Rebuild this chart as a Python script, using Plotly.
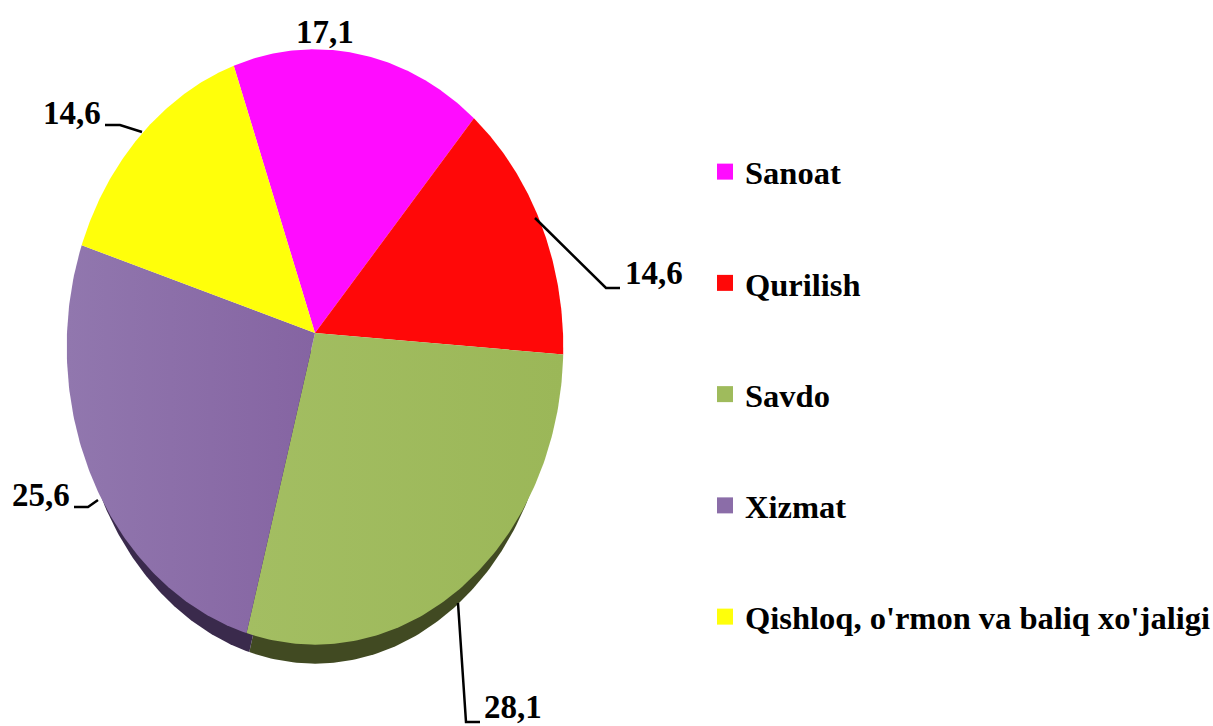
import numpy as np
import plotly.graph_objects as go

categories = ["Sanoat", "Qurilish", "Savdo", "Xizmat", "Qishloq, o'rmon va baliq xo'jaligi"]
values = [17.1, 14.6, 28.1, 25.6, 14.6]
colors = ["#FF0CFF", "#FF0808", "#9FBB5C", "#8B6DA8", "#FFFF0A"]
gradients = [None, None, ("#A3BE62", "#9BB758"), ("#9177AE", "#8564A2"), None]
depth_colors = [None, None, "#414A22", "#3A2A4C", None]

START_DEG = 340.0
CX, APEX_Y, RX, RY = 315.0, 333.0, 248.0, 297.0
PERSPECTIVE = 0.047
DEPTH_APEX_Y, DEPTH_RX = 352.0, 238.0
W, H = 1213, 726
FONT = "Liberation Serif"
LABEL_SIZE = 33
LEGEND_SIZE = 32.5


def wedge(a0, a1, apex_y, rx, ry):
    t = np.radians(np.linspace(a0, a1, 120))
    d = 1 + PERSPECTIVE * np.cos(t)
    xs = np.concatenate([[CX], CX + rx * np.sin(t) / d, [CX]])
    ys = np.concatenate([[apex_y], apex_y - ry * np.cos(t) / d, [apex_y]])
    return xs, ys


fig = go.Figure()
edges = START_DEG + np.concatenate([[0], np.cumsum(values)]) * 3.6

# side wall of the tilted pie
for i, c in enumerate(depth_colors):
    if c:
        xs, ys = wedge(edges[i], edges[i + 1], DEPTH_APEX_Y, DEPTH_RX, RY)
        fig.add_trace(go.Scatter(x=xs, y=ys, mode="lines", fill="toself", fillcolor=c,
                                 line=dict(width=0, color=c), showlegend=False, hoverinfo="skip"))

# top face
for i, name in enumerate(categories):
    xs, ys = wedge(edges[i], edges[i + 1], APEX_Y, RX, RY)
    kw = dict(fillcolor=colors[i])
    if gradients[i]:
        kw = dict(fillgradient=dict(type="horizontal",
                                    colorscale=[[0, gradients[i][0]], [1, gradients[i][1]]]))
    fig.add_trace(go.Scatter(x=xs, y=ys, mode="lines", fill="toself", name=name,
                             line=dict(width=0, color=colors[i]), showlegend=False,
                             hoverinfo="name", **kw))

# legend entries
for name, c in zip(categories, colors):
    fig.add_trace(go.Scatter(x=[None], y=[None], mode="markers", name=name, legendgroup=name,
                             marker=dict(symbol="square", size=16, color=c)))

# leader lines: one polyline per value label
leaders = [
    [(535, 218), (606, 288), (620, 288)],
    [(458, 603), (466, 722), (480, 722)],
    [(98, 500), (88, 507), (74, 507)],
    [(142, 132), (120, 125), (105, 125)],
]
for pts in leaders:
    fig.add_trace(go.Scatter(x=[p[0] for p in pts], y=[p[1] for p in pts], mode="lines",
                             line=dict(color="black", width=2.5), showlegend=False, hoverinfo="skip"))

# value labels: (centre x, centre y) in the same order as values
label_pos = [(325, 32), (654, 273), (513, 707), (41, 495), (72, 113)]
for v, (lx, ly) in zip(values, label_pos):
    fig.add_annotation(x=lx, y=ly, text=f"{v:.1f}".replace(".", ","), showarrow=False,
                       font=dict(family=FONT, size=LABEL_SIZE, color="black", weight="bold"),
                       xanchor="center", yanchor="middle")

fig.update_layout(
    width=W, height=H, margin=dict(l=0, r=0, t=0, b=0, autoexpand=False),
    plot_bgcolor="white", paper_bgcolor="white",
    xaxis=dict(range=[0, W], visible=False, fixedrange=True),
    yaxis=dict(range=[H, 0], visible=False, fixedrange=True),
    legend=dict(x=705 / W, y=1 - 144 / H, xanchor="left", yanchor="top",
                font=dict(family=FONT, size=LEGEND_SIZE, color="black", weight="bold"),
                tracegroupgap=66, itemsizing="trace", bgcolor="rgba(0,0,0,0)"),
)
fig.write_html("out.html", config={"displayModeBar": False},
               post_script="document.body.style.margin='0';")
